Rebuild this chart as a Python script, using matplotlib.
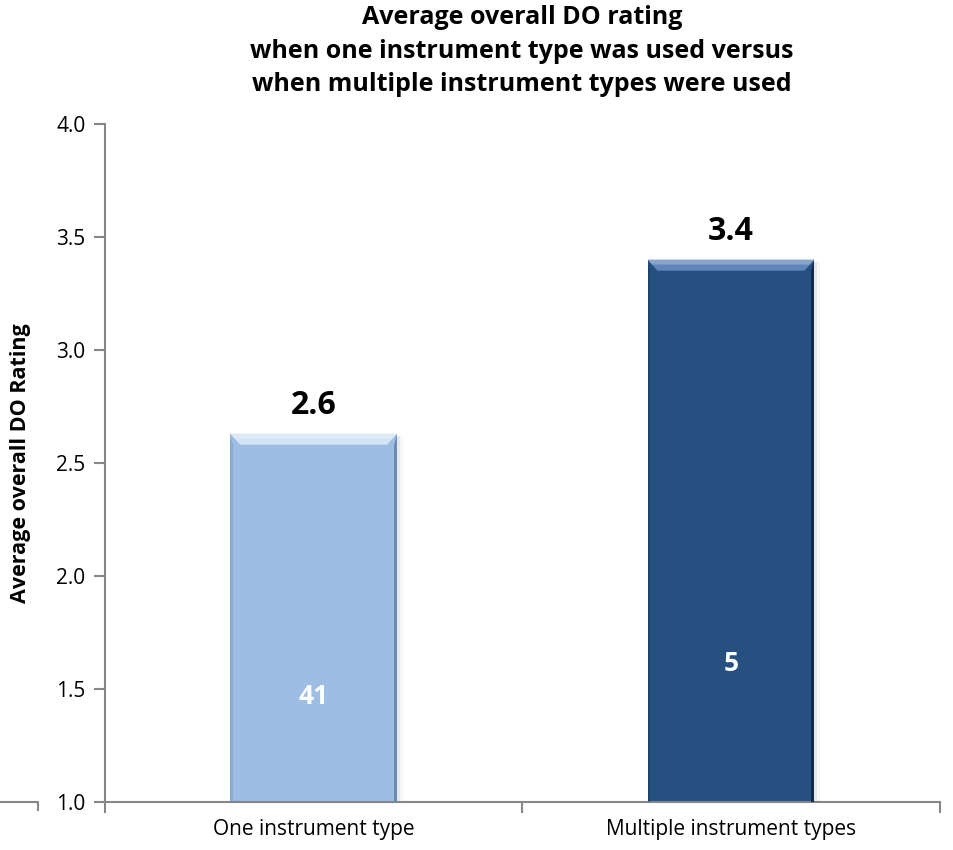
import numpy as np
import matplotlib.pyplot as plt
from matplotlib.patches import Polygon
from matplotlib.lines import Line2D

plt.rcParams['font.family'] = ['Open Sans', 'DejaVu Sans']

categories = ['One instrument type', 'Multiple instrument types']
ratings = [2.63, 3.40]
rating_labels = ['2.6', '3.4']
counts = ['41', '5']
count_pos = [1.465, 1.615]
face = ['#9ebde2', '#26507f']
light = ['#d3e4f6', '#5f86b8']
dark = ['#6c8bb3', '#142c4b']

fig = plt.figure(figsize=(9.54, 8.5), dpi=100)
ax = fig.add_axes([0.110, 0.0565, 0.875, 0.7975])

x = np.arange(len(categories))
width = 0.40
bars = ax.bar(x, np.array(ratings) - 1.0, bottom=1.0, width=width,
              color=face, zorder=2)

ax.set_xlim(-0.5, 1.5)
ax.set_ylim(1.0, 4.0)
ax.set_yticks(np.arange(1.0, 4.01, 0.5))
ax.set_yticklabels([f'{v:.1f}' for v in np.arange(1.0, 4.01, 0.5)], fontsize=15)
ax.set_xticks(x)
ax.set_xticklabels(categories, fontsize=15)
ax.tick_params(axis='x', length=0, pad=12)
ax.set_xticks([-0.5, 0.5, 1.5], minor=True)
ax.tick_params(axis='x', which='minor', length=8, color='#868686', width=1.5)
ax.tick_params(axis='y', length=8, color='#868686', width=1.5, pad=6)

for side in ['top', 'right']:
    ax.spines[side].set_visible(False)
for side in ['left', 'bottom']:
    ax.spines[side].set_color('#868686')
    ax.spines[side].set_linewidth(1.5)

# bevel: light band across the top, dark band down the right side
inv = ax.transData.inverted()
p0 = inv.transform((0, 0))
bx = inv.transform((10, 0))[0] - p0[0]
by = inv.transform((0, 11))[1] - p0[1]
rx = inv.transform((3, 0))[0] - p0[0]
gap = inv.transform((0, 20))[1] - p0[1]
for i, b in enumerate(bars):
    x0, y0 = b.get_x(), b.get_y()
    x1, y1 = x0 + b.get_width(), y0 + b.get_height()
    for k, a in enumerate([0.06, 0.03]):
        ax.add_patch(Polygon([(x1, y0), (x1 + (k + 1) * rx, y0),
                              (x1 + (k + 1) * rx, y1 - by * 0.2), (x1, y1 - by * 0.2)],
                             color='#000000', alpha=a, lw=0, zorder=1))
    ax.add_patch(Polygon([(x0, y1), (x1, y1), (x1 - bx, y1 - by), (x0 + bx, y1 - by)],
                         color=light[i], lw=0, zorder=3))
    ax.add_patch(Polygon([(x0, y1), (x1, y1), (x1 - bx * 0.5, y1 - by * 0.45),
                          (x0 + bx * 0.5, y1 - by * 0.45)],
                         color='white', alpha=0.25, lw=0, zorder=3))
    ax.add_patch(Polygon([(x1, y1), (x1, y0), (x1 - rx, y0), (x1 - rx, y1 - by)],
                         color=dark[i], lw=0, zorder=3))
    ax.add_patch(Polygon([(x0, y1), (x0, y0), (x0 + rx * 0.8, y0), (x0 + rx * 0.8, y1 - by)],
                         color=dark[i], alpha=0.35, lw=0, zorder=3))

    ax.text(b.get_x() + b.get_width() / 2, ratings[i] + gap, rating_labels[i],
            ha='center', va='baseline', fontsize=23, fontweight='bold')
    ax.text(b.get_x() + b.get_width() / 2, count_pos[i], counts[i],
            ha='center', va='center', fontsize=19, fontweight='bold', color='white')

ax.set_ylabel('Average overall DO Rating', fontsize=15.5, fontweight='bold')
ax.yaxis.set_label_coords(-0.089, 0.5)

fig.text(0.547, 0.994, 'Average overall DO rating\n'
         'when one instrument type was used versus\n'
         'when multiple instrument types were used',
         ha='center', va='top', fontsize=18, fontweight='bold', linespacing=1.45)

# stray axis piece at the left edge
fig.add_artist(Line2D([0.0, 0.040, 0.040], [0.0565, 0.0565, 0.047],
                      transform=fig.transFigure, color='#868686', lw=1.5))

fig.savefig('out.png', dpi=100)
